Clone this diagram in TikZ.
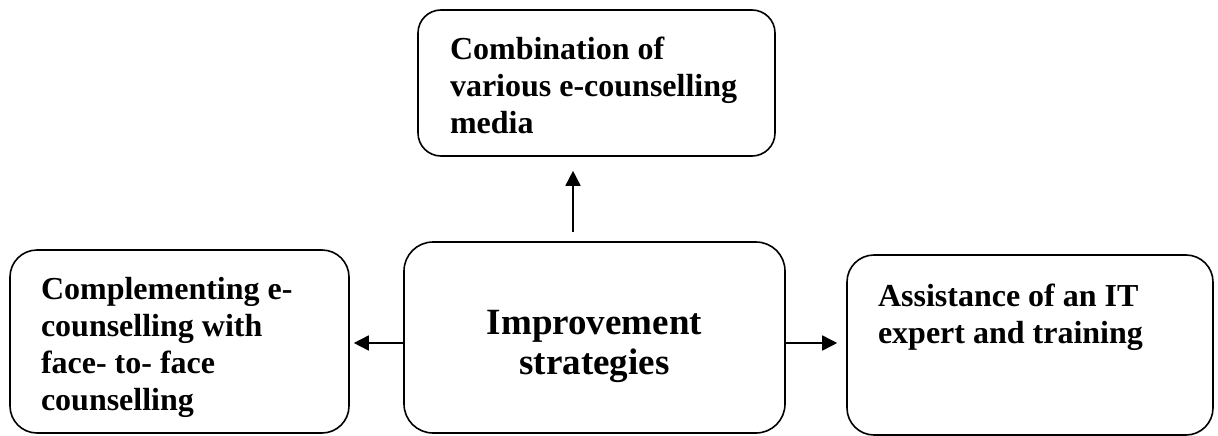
\documentclass[tikz,border=0pt]{standalone}
\usepackage{fontspec}
\setmainfont{Liberation Serif}
\usetikzlibrary{arrows.meta}

\begin{document}
\begin{tikzpicture}[x=1pt,y=-1pt]
      \tikzset{
        box/.style={draw, rectangle, rounded corners=27pt, line width=1.6pt, inner xsep=31pt, inner ysep=27pt, font=\bfseries\fontsize{32}{37}\selectfont},
        hub/.style={draw, rectangle, rounded corners=29pt, line width=1.6pt, inner xsep=0pt, inner ysep=68.5pt, font=\bfseries\fontsize{37}{40}\selectfont},
        line/.style={draw, line width=1.6pt, -{Triangle[length=15pt,width=15pt]}},
      }
      \useasboundingbox (0,0) rectangle (1218,436);

      \node [hub] at (594.5,337.5) (strat) {\parbox[c][54pt][t]{381pt}{\centering Improvement\\strategies}};
      \node [box, above of=strat, node distance=254.5pt, xshift=2pt, rounded corners=23pt, inner xsep=32pt] (media) {\parbox[c][92pt][t]{293pt}{Combination of\\various e-counselling\\media}};
      \node [box, left of=strat, node distance=415pt, yshift=-4pt, inner xsep=31pt] (compl) {\parbox[c][129pt][t]{277pt}{Complementing e-\\counselling with\\face- to- face\\counselling}};
      \node [box, right of=strat, node distance=435.5pt, yshift=-7.5pt, inner ysep=29pt] (assist) {\parbox[c][122pt][t]{304pt}{Assistance of an IT\\expert and training}};

      \path [line, shorten <=9pt, shorten >=14pt] ([xshift=-21.5pt]strat.north) -- ([xshift=-23.5pt]media.south);
      \path [line, shorten >=4pt] ([yshift=-5.5pt]strat.west) -- ([yshift=-1.5pt]compl.east);
      \path [line, shorten >=9pt] ([yshift=-5.5pt]strat.east) -- ([yshift=2pt]assist.west);
      \end{tikzpicture}
\end{document}
